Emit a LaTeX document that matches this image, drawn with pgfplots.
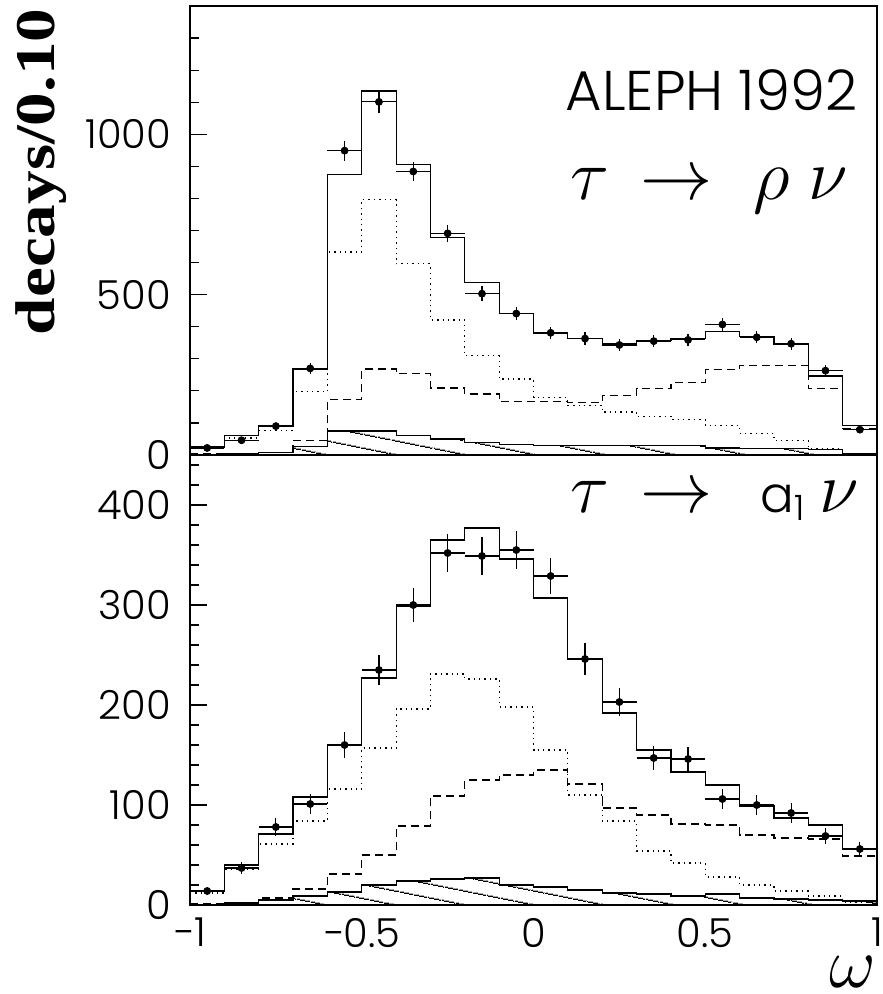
\documentclass[border=0pt]{standalone}
\usepackage{fontspec}
\usepackage{pgfplots}
\usepackage{pgfplotstable}
\pgfplotsset{compat=1.18}
\usetikzlibrary{calc,patterns.meta}
\IfFontExistsTF{Poppins Light}{\setmainfont{Poppins Light}}{\setmainfont{Liberation Sans}}
\newfontfamily\serifb{Liberation Serif}

% tau -> rho nu : bin left edges, MC total / dotted / dashed / hatched
\pgfplotstableread{
xl    tot  dot  das  hat
-1.0   25   22    4    2
-0.9   62   53    3    4
-0.8   91   76    8    8
-0.7  268  197   45   27
-0.6  875  633  172   75
-0.5 1135  796  268   75
-0.4  907  596  253   60
-0.3  678  421  209   50
-0.2  538  309  190   39
-0.1  440  237  167   32
 0.0  379  179  167   30
 0.1  362  155  163   30
 0.2  347  134  186   30
 0.3  356  121  207   30
 0.4  363  110  226   30
 0.5  386   92  267   22
 0.6  370   68  278   21
 0.7  346   45  278   21
 0.8  246   20  207   18
 0.9   92    4   83    5
 1.0   92    4   83    5
}\rhomc

\pgfplotstableread{
x      y    ex    ey
-0.95   22  0.05  4.7
-0.85   46  0.05  6.8
-0.75   90  0.05  9.5
-0.65  270  0.05 16.4
-0.55  949  0.05 30.8
-0.45 1101  0.05 33.2
-0.35  884  0.05 29.7
-0.25  691  0.05 26.3
-0.15  503  0.05 22.4
-0.05  441  0.05 21.0
 0.05  381  0.05 19.5
 0.15  363  0.05 19.1
 0.25  343  0.05 18.5
 0.35  355  0.05 18.8
 0.45  359  0.05 18.9
 0.55  407  0.05 20.2
 0.65  367  0.05 19.2
 0.75  347  0.05 18.6
 0.85  263  0.05 16.2
 0.95   79  0.05  8.9
}\rhodata

% tau -> a1 nu
\pgfplotstableread{
xl    tot  dot  das  hat
-1.0   14   12    1    0
-0.9   40   36    2    2
-0.8   71   61    7    5
-0.7  108   84   16    9
-0.6  160  116   31   13
-0.5  227  157   50   20
-0.4  299  196   79   24
-0.3  365  231  109   26
-0.2  377  226  125   27
-0.1  346  198  130   20
 0.0  307  155  135   18
 0.1  246  110  121   15
 0.2  192   84   97   12
 0.3  155   54   90   11
 0.4  133   42   81    9
 0.5  120   28   80   11
 0.6   99   20   70    7
 0.7   87   14   67    6
 0.8   80    9   66    5
 0.9   56    3   49    4
 1.0   56    3   49    4
}\aonemc

\pgfplotstableread{
x      y    ex    ey
-0.95   14  0.05  3.7
-0.85   37  0.05  6.1
-0.75   78  0.05  8.8
-0.65  101  0.05 10.0
-0.55  160  0.05 12.6
-0.45  235  0.05 15.3
-0.35  300  0.05 17.3
-0.25  352  0.05 18.8
-0.15  349  0.05 18.7
-0.05  355  0.05 18.8
 0.05  329  0.05 18.1
 0.15  246  0.05 15.7
 0.25  203  0.05 14.2
 0.35  147  0.05 12.1
 0.45  146  0.05 12.1
 0.55  106  0.05 10.3
 0.65  100  0.05 10.0
 0.75   92  0.05  9.6
 0.85   69  0.05  8.3
 0.95   56  0.05  7.5
}\aonedata

\pgfplotsset{
  panel/.style={
    scale only axis, width=343.5pt,
    xmin=-1, xmax=1, ymin=0,
    axis line style={line width=0.8pt},
    tick align=inside, ytick pos=left,
    major tick length=8.5pt, minor tick length=4.5pt,
    every tick/.style={black, line width=0.6pt},
    xtick={-1,-0.5,0,0.5,1}, major x tick style={draw=none},
    tick label style={font=\fontsize{20}{24}\selectfont},
    yticklabel style={xshift=-6pt},
    xticklabel style={yshift=-3pt},
    clip=false,
  },
  histo/.style={const plot, no marks, line width=0.6pt, black},
  hatch/.style={histo, pattern={Lines[angle=-11.3,distance=6.9pt,line width=0.6pt]}},
  dots/.style={histo, dash pattern=on 0.7pt off 2pt},
  dash/.style={histo, dash pattern=on 4pt off 2.5pt},
  datapts/.style={only marks, mark=*, mark size=1.75pt, black,
    error bars/.cd, x dir=both, x explicit, y dir=both, y explicit,
    error mark=none, error bar style={line width=0.6pt}},
}
\tikzset{
  greek/.style={anchor=base west, inner sep=0, scale=1.45,
    font=\fontsize{24.88}{30}\selectfont},
}

\begin{document}
\begin{tikzpicture}
\begin{axis}[panel, name=top, height=224.5pt, ymax=1400,
  ytick={0,500,1000}, yticklabels={0,500,1000},
  minor ytick={100,200,...,1400}, xticklabels={}]
\addplot[hatch] table[x=xl,y=hat]{\rhomc} \closedcycle;
\addplot[dots] table[x=xl,y=dot]{\rhomc};
\addplot[dash] table[x=xl,y=das]{\rhomc};
\addplot[histo] table[x=xl,y=tot]{\rhomc};
\addplot[datapts] table[x=x,y=y,x error=ex,y error=ey]{\rhodata};
\node[anchor=base east, inner sep=0, font=\fontsize{28}{32}\selectfont]
  at (rel axis cs:0.972,0.768) {ALEPH 1992};
\node[greek] at (rel axis cs:0.553,0.568) {$\tau$};
\node[greek] at (rel axis cs:0.655,0.568) {$\rightarrow$};
\node[greek] at (rel axis cs:0.820,0.568) {$\rho$};
\node[greek] at (rel axis cs:0.900,0.568) {$\nu$};
\end{axis}

\begin{axis}[panel, name=bot, at={(top.south west)}, anchor=north west,
  height=225pt, ymax=450,
  ytick={0,100,200,300,400}, yticklabels={0,100,200,300,400},
  minor ytick={20,40,...,440},
  xticklabels={−1,−0.5,0,0.5,1}]
\addplot[hatch] table[x=xl,y=hat]{\aonemc} \closedcycle;
\addplot[dots] table[x=xl,y=dot]{\aonemc};
\addplot[dash] table[x=xl,y=das]{\aonemc};
\addplot[histo] table[x=xl,y=tot]{\aonemc};
\addplot[datapts] table[x=x,y=y,x error=ex,y error=ey]{\aonedata};
\node[greek] at (rel axis cs:0.553,0.873) {$\tau$};
\node[greek] at (rel axis cs:0.655,0.873) {$\rightarrow$};
\node[anchor=base west, inner sep=0, font=\fontsize{25}{30}\selectfont] at (rel axis cs:0.830,0.873) {a\textsubscript{1}};
\node[greek] at (rel axis cs:0.915,0.873) {$\nu$};
\node[greek, anchor=base] at (rel axis cs:0.965,-0.184) {$\omega$};
\end{axis}

\node[rotate=90, xscale=1.2, anchor=east, inner sep=0,
  font=\serifb\bfseries\fontsize{28}{30}\selectfont]
  at ($(top.north west)+(-74.5pt,-1pt)$) {decays/0.10};

\pgfresetboundingbox
\useasboundingbox ($(top.north west)+(-95pt,3pt)$) rectangle ($(bot.south east)+(2.5pt,-44.5pt)$);
\end{tikzpicture}
\end{document}
